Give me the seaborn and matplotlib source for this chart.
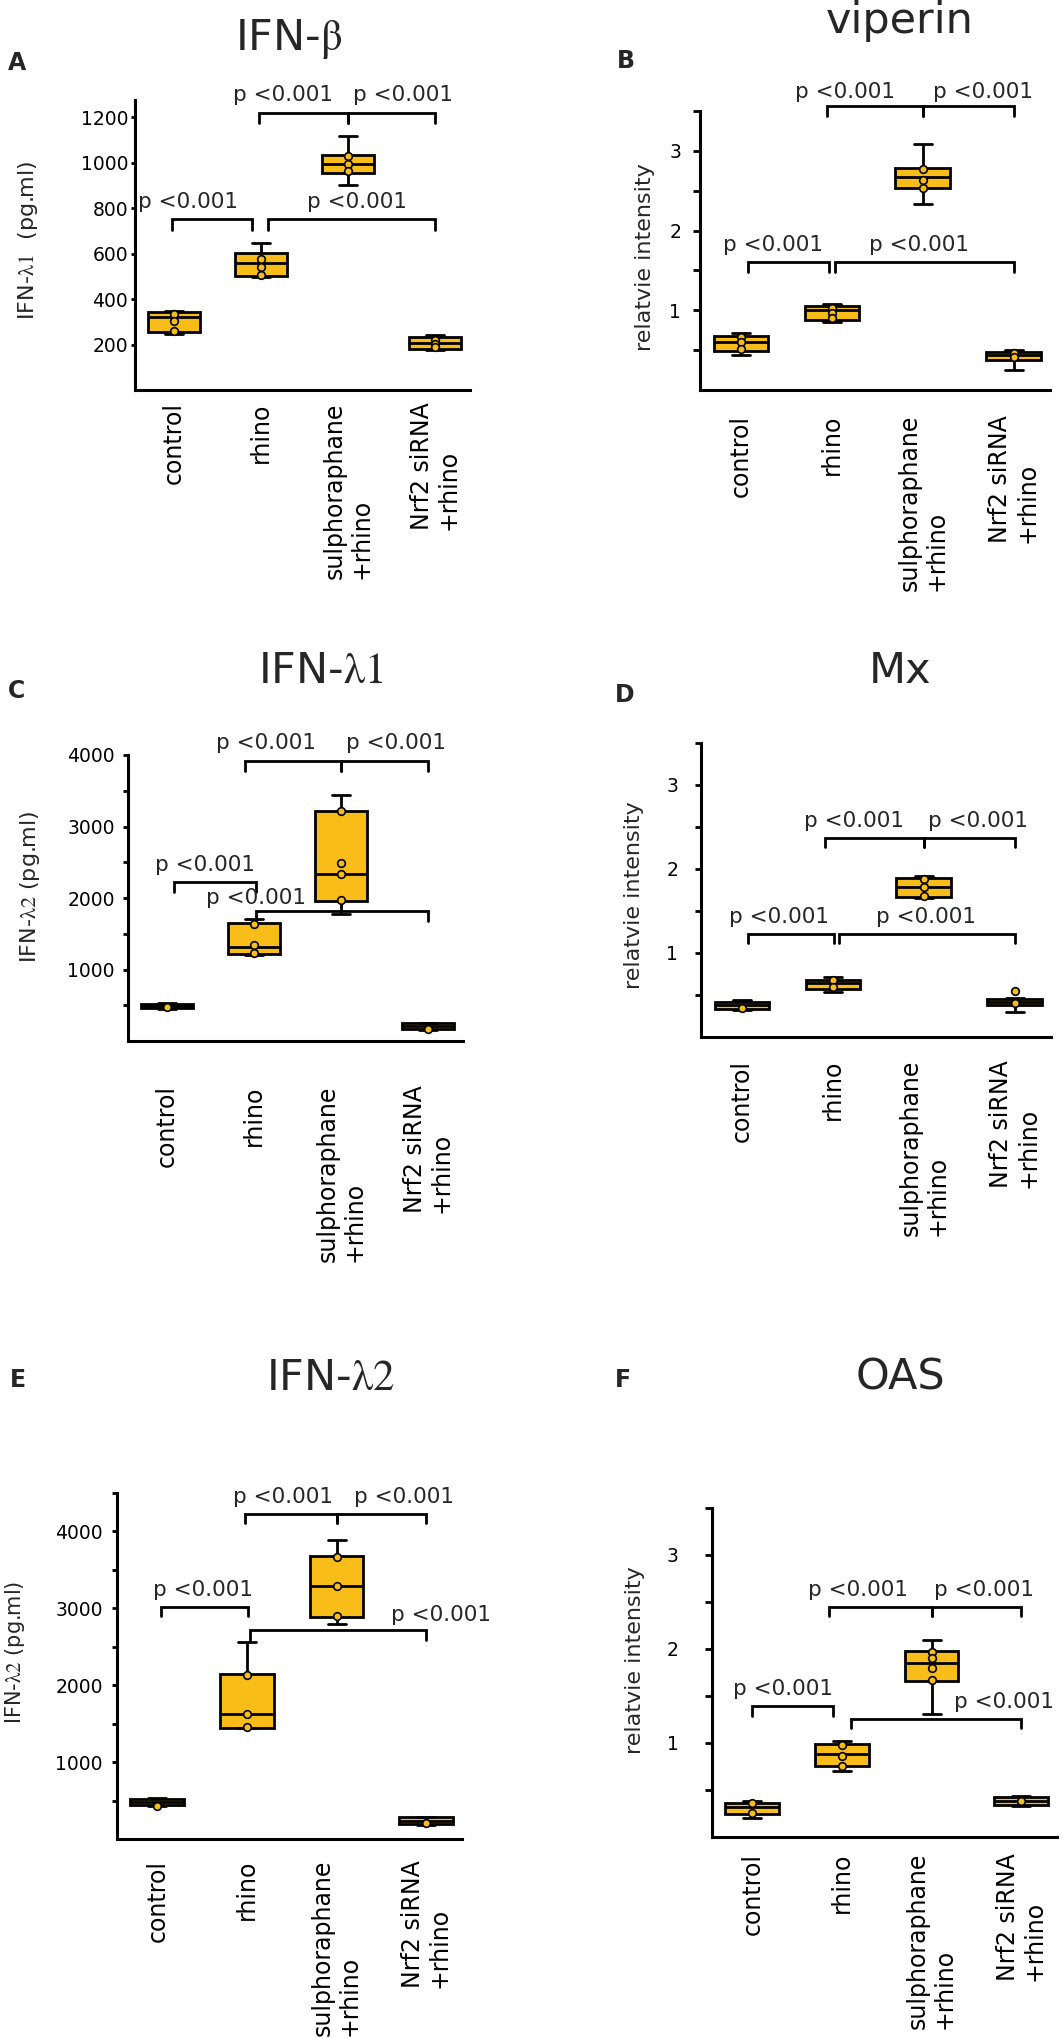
import numpy as np
import pandas as pd
import matplotlib
matplotlib.use("Agg")
import matplotlib.pyplot as plt
import seaborn as sns

sns.set_theme(style="ticks")
plt.rcParams["font.family"] = ["DejaVu Sans"]
plt.rcParams["mathtext.fontset"] = "stix"

YELLOW = "#F9BD19"
W, H = 1063, 2038

groups = ["control", "rhino", "sulphoraphane\n+rhino", "Nrf2 siRNA\n+rhino"]

# box = whisker low, Q1, median, Q3, whisker high for each group
ifnb_box = [[245, 255, 321, 343, 348], [495, 502, 560, 604, 648],
            [903, 954, 992, 1032, 1117], [178, 182, 205, 233, 240]]
ifnb_pts = [[332, 302, 258], [575, 541, 505], [1029, 992, 962], [222, 201, 188]]

viperin_box = [[0.44, 0.49, 0.60, 0.68, 0.71], [0.85, 0.88, 1.00, 1.05, 1.08],
               [2.33, 2.53, 2.67, 2.78, 3.09], [0.25, 0.38, 0.44, 0.48, 0.50]]
viperin_pts = [[0.66, 0.60, 0.52], [1.03, 0.97, 0.90], [2.77, 2.64, 2.54], [0.47, 0.42]]

ifnl1_box = [[445, 455, 490, 520, 530], [1196, 1220, 1312, 1648, 1709],
             [1779, 1965, 2329, 3214, 3443], [150, 165, 205, 245, 255]]
ifnl1_pts = [[470], [1639, 1336, 1228], [3210, 2487, 2329, 1975], [165]]

mx_box = [[0.32, 0.33, 0.38, 0.42, 0.44], [0.53, 0.57, 0.64, 0.68, 0.72],
          [1.65, 1.67, 1.78, 1.89, 1.92], [0.30, 0.38, 0.42, 0.45, 0.47]]
mx_pts = [[0.35], [0.68, 0.60], [1.88, 1.78, 1.68], [0.55, 0.40]]

ifnl2_box = [[430, 440, 480, 520, 530], [1448, 1450, 1623, 2152, 2562],
             [2801, 2887, 3290, 3679, 3883], [180, 190, 230, 280, 290]]
ifnl2_pts = [[430], [2139, 1623, 1458], [3666, 3290, 2896], [208]]

oas_box = [[0.205, 0.25, 0.316, 0.365, 0.38], [0.705, 0.755, 0.88, 0.99, 1.02],
           [1.305, 1.66, 1.855, 1.98, 2.10], [0.33, 0.34, 0.38, 0.43, 0.44]]
oas_pts = [[0.36, 0.26], [0.98, 0.86, 0.76], [1.97, 1.90, 1.795, 1.67], [0.38]]

half_ticks = [0.5, 1, 1.5, 2, 2.5, 3, 3.5]
half_labels = ["", "1", "", "2", "", "3", ""]

# brackets: left x, right x, height, text x, text offset (pt)
panels = [
    dict(letter="A", title="IFN-$\\mathrm{\\beta}$", ylabel="IFN-$\\mathrm{\\lambda1}$  (pg.ml)",
         box=ifnb_box, pts=ifnb_pts, rect=(135, 390, 335, 290), ylim=1275,
         yticks=[200, 400, 600, 800, 1000, 1200], ylabels=["200", "400", "600", "800", "1000", "1200"],
         tlen=3, tpad=2, xpad=9, lab=(-0.284, 0.517), ylsize=16, leg=45,
         brackets=[(-0.03, 0.9, 750, 0.16, 8), (1.08, 3.0, 750, 2.1, 8),
                   (0.97, 2.0, 1220, 1.25, 8), (2.0, 3.0, 1220, 2.63, 8)],
         letter_xy=(8, 70), title_xy=(289, 50)),
    dict(letter="B", title="viperin", ylabel="relatvie intensity",
         box=viperin_box, pts=viperin_pts, rect=(700, 390, 350, 279), ylim=3.5,
         yticks=half_ticks, ylabels=half_labels,
         tlen=5, tpad=8.5, xpad=18, lab=(-0.129, 0.477), ylsize=16, leg=0.12,
         brackets=[(0.08, 0.97, 1.6, 0.35, 8), (1.04, 3.0, 1.6, 1.96, 8),
                   (0.95, 2.0, 3.56, 1.15, 6), (2.0, 3.0, 3.56, 2.66, 6)],
         letter_xy=(617, 68), title_xy=(900, 33)),
    dict(letter="C", title="IFN-$\\mathrm{\\lambda1}$", ylabel="IFN-$\\mathrm{\\lambda2}$ (pg.ml)",
         box=ifnl1_box, pts=ifnl1_pts, rect=(128, 1041, 335, 286), ylim=4000,
         yticks=[500, 1000, 1500, 2000, 2500, 3000, 3500, 4000],
         ylabels=["", "1000", "", "2000", "", "3000", "", "4000"],
         tlen=3.6, tpad=6, xpad=32, lab=(-0.257, 0.54), ylsize=16, leg=140,
         brackets=[(0.08, 1.02, 2221, 0.43, 8), (1.02, 3.0, 1815, 1.02, 5),
                   (0.9, 2.0, 3913, 1.14, 9), (2.0, 3.0, 3913, 2.63, 9)],
         letter_xy=(8, 698), title_xy=(321, 683)),
    dict(letter="D", title="Mx", ylabel="relatvie intensity",
         box=mx_box, pts=mx_pts, rect=(701, 1037, 350, 294), ylim=3.5,
         yticks=half_ticks, ylabels=half_labels,
         tlen=4.3, tpad=12, xpad=16.5, lab=(-0.163, 0.483), ylsize=16, leg=0.11,
         brackets=[(0.07, 1.01, 1.23, 0.41, 8), (1.07, 3.0, 1.23, 2.03, 8),
                   (0.91, 2.0, 2.37, 1.23, 8), (2.0, 3.0, 2.37, 2.6, 8)],
         letter_xy=(615, 702), title_xy=(900, 683)),
    dict(letter="E", title="IFN-$\\mathrm{\\lambda2}$", ylabel="IFN-$\\mathrm{\\lambda2}$ (pg.ml)",
         box=ifnl2_box, pts=ifnl2_pts, rect=(117, 1839, 345, 346), ylim=4500,
         yticks=[500, 1000, 1500, 2000, 2500, 3000, 3500, 4000, 4500],
         ylabels=["", "1000", "", "2000", "", "3000", "", "4000", ""],
         tlen=3.6, tpad=6.5, xpad=15, lab=(-0.26, 0.54), ylsize=15, leg=120,
         brackets=[(0.04, 1.01, 3017, 0.51, 8), (1.03, 3.0, 2714, 3.17, 7),
                   (0.98, 2.0, 4227, 1.4, 8), (2.0, 3.0, 4227, 2.75, 8)],
         letter_xy=(10, 1387), title_xy=(330, 1390)),
    dict(letter="F", title="OAS", ylabel="relatvie intensity",
         box=oas_box, pts=oas_pts, rect=(712, 1837, 345, 329), ylim=3.5,
         yticks=half_ticks, ylabels=half_labels,
         tlen=5, tpad=19, xpad=11.5, lab=(-0.194, 0.538), ylsize=16, leg=0.1,
         brackets=[(0.0, 0.9, 1.39, 0.34, 8), (1.1, 3.0, 1.255, 2.81, 8),
                   (0.86, 2.0, 2.45, 1.18, 8), (2.0, 3.0, 2.45, 2.58, 8)],
         letter_xy=(615, 1387), title_xy=(900, 1390)),
]


def long_table(values):
    rows = []
    for g, vals in zip(groups, values):
        for v in vals:
            rows.append({"group": g, "value": v})
    return pd.DataFrame(rows)


fig = plt.figure(figsize=(W / 100, H / 100), dpi=100)

for p in panels:
    left, bottom, width, height = p["rect"]
    ax = fig.add_axes([left / W, (H - bottom) / H, width / W, height / H])

    sns.boxplot(data=long_table(p["box"]), x="group", y="value", order=groups,
                color=YELLOW, saturation=1, linecolor="black", linewidth=2,
                width=0.6, whis=(0, 100), showfliers=False, capwidths=0.2, ax=ax)
    sns.stripplot(data=long_table(p["pts"]), x="group", y="value", order=groups,
                  jitter=False, color=YELLOW, edgecolor="black", linewidth=1.2,
                  size=5.5, ax=ax, zorder=5)

    ax.set_xlim(-0.45, 3.4)
    ax.set_ylim(0, p["ylim"])
    ax.set_yticks(p["yticks"], p["ylabels"])
    ax.set_xlabel("")
    ax.set_ylabel(p["ylabel"], fontsize=p["ylsize"])
    ax.yaxis.set_label_coords(*p["lab"])
    sns.despine(ax=ax)
    for s in ["left", "bottom"]:
        ax.spines[s].set_linewidth(2.2)
        ax.spines[s].set_color("black")
    ax.tick_params(axis="y", length=p["tlen"], width=2, pad=p["tpad"], labelsize=13.5, colors="black")
    ax.tick_params(axis="x", length=0, pad=p["xpad"], labelsize=17, colors="black")
    for lab in ax.get_xticklabels():
        lab.set_rotation(90)
        lab.set_multialignment("left")
        lab.set_linespacing(1.15)

    for x1, x2, y, tx, dy in p["brackets"]:
        ax.plot([x1, x1, x2, x2], [y - p["leg"], y, y, y - p["leg"]], color="black",
                lw=2, clip_on=False, solid_joinstyle="miter")
        ax.annotate("p <0.001", xy=(tx, y), xytext=(0, dy), textcoords="offset points",
                    ha="center", va="baseline", fontsize=15.5, annotation_clip=False)

    fig.text(p["letter_xy"][0] / W, 1 - p["letter_xy"][1] / H, p["letter"],
             fontsize=17, fontweight="bold", ha="left", va="baseline")
    fig.text(p["title_xy"][0] / W, 1 - p["title_xy"][1] / H, p["title"],
             fontsize=31, ha="center", va="baseline")

fig.savefig("out.png", dpi=100)
